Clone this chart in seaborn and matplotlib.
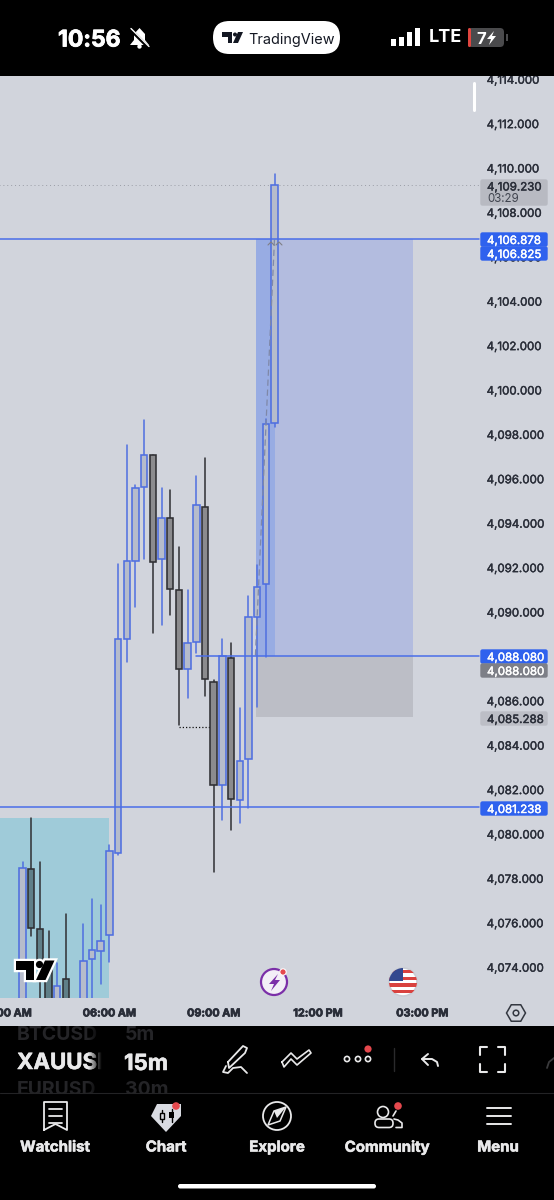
import numpy as np
import pandas as pd
import seaborn as sns
import matplotlib.pyplot as plt
import matplotlib.patheffects as pe
from matplotlib.patches import Rectangle, Circle, FancyBboxPatch, Polygon, RegularPolygon

# --- chart data ---
opens = [4071.5, 4078.42, 4075.72, 4074.10, 4071.0, 4073.47, 4071.2, 4072.0, 4074.37, 4074.73,
         4075.45, 4079.14, 4088.78, 4092.30, 4095.63, 4097.07, 4092.39, 4094.23, 4090.99, 4087.43,
         4088.65, 4094.73, 4086.85, 4082.21, 4087.93, 4081.53, 4083.38, 4089.77, 4091.26, 4098.51]
closes = [4078.47, 4075.77, 4074.10, 4071.5, 4073.15, 4071.5, 4071.6, 4074.28, 4074.77, 4075.18,
          4079.23, 4088.78, 4092.30, 4095.59, 4097.07, 4092.25, 4094.23, 4091.04, 4087.43, 4088.60,
          4094.82, 4086.98, 4082.21, 4088.02, 4081.58, 4083.29, 4089.77, 4091.13, 4098.47, 4109.23]
highs = [4078.74, 4080.72, 4078.74, 4075.63, 4074.19, 4076.40, 4072.2, 4075.95, 4077.07, 4076.80,
         4079.50, 4092.16, 4097.52, 4095.72, 4098.65, 4097.07, 4095.59, 4095.50, 4092.93, 4090.99,
         4096.13, 4096.94, 4086.94, 4088.78, 4088.60, 4085.68, 4090.72, 4092.12, 4098.69, 4109.73]
lows = [4070.0, 4075.41, 4071.5, 4070.5, 4070.0, 4070.5, 4070.5, 4071.0, 4072.0, 4073.24,
        4074.23, 4079.05, 4087.75, 4090.23, 4092.39, 4089.05, 4089.41, 4089.86, 4084.91, 4086.13,
        4088.15, 4086.22, 4078.29, 4080.63, 4080.18, 4080.50, 4081.17, 4085.72, 4087.97, 4098.33]

price_ticks = [4074, 4076, 4078, 4080, 4082, 4084, 4086, 4088, 4090, 4092, 4094, 4096, 4098,
               4100, 4102, 4104, 4106, 4108, 4110, 4112, 4114]
time_ticks = [-2, 10, 22, 34, 46]
time_labels = ["03:00 AM", "06:00 AM", "09:00 AM", "12:00 PM", "03:00 PM"]

target_level = 4106.81
entry_level = 4088.04
stop_level = 4085.288
support_level = 4081.21
last_price = 4109.230
dotted_level = 4084.82
zone_top = 4080.72

BLUE = "#4f6fe0"
LINE_BLUE = "#4a6ee8"
DARK = "#2f2f33"
BG = "#d1d4dc"
TAG_BLUE = "#2f62ee"
INK = "#2a2e39"

sns.set_theme(style="white")
plt.rcParams['font.family'] = ['Inter', 'DejaVu Sans']


def heavy(t, w, col):
    t.set_path_effects([pe.withStroke(linewidth=w, foreground=col)])
    return t


fig = plt.figure(figsize=(5.54, 12), dpi=100, facecolor=BG)
ax = fig.add_axes([0, (1200 - 998) / 1200, 1, (998 - 76) / 1200], facecolor=BG)

# --- wicks via seaborn, one vertical line per candle ---
rows = []
for i in range(len(opens)):
    side = "up" if closes[i] > opens[i] else "down"
    rows.append({"candle": i, "price": lows[i], "side": side})
    rows.append({"candle": i, "price": highs[i], "side": side})
wicks = pd.DataFrame(rows)
sns.lineplot(data=wicks, x="candle", y="price", hue="side", units="candle", estimator=None,
             palette={"up": BLUE, "down": DARK}, lw=1.1, legend=False, ax=ax, zorder=2)

# --- bodies ---
x = np.arange(len(opens))
o = np.array(opens)
c = np.array(closes)
up = c > o
ax.bar(x[up], (c - o)[up], bottom=o[up], width=0.74, color="#b6bccb",
       edgecolor=BLUE, linewidth=1.15, zorder=3)
# bear candles left of 06:00 sit in the teal zone
bear_fill = ["#5f7f88" if i < 10 else "#8b8b8e" for i in x[~up]]
ax.bar(x[~up], (o - c)[~up], bottom=c[~up], width=0.74, color=bear_fill,
       edgecolor=DARK, linewidth=1.15, zorder=3)

# --- drawings ---
ax.add_patch(Rectangle((-3, 4072), 13.01, zone_top - 4072, color="#9fcbd9", lw=0, zorder=0.5))
ax.add_patch(Rectangle((26.87, entry_level), 18.07, target_level - entry_level, color="#b3bcdf", lw=0, zorder=0.5))
ax.add_patch(Rectangle((26.87, entry_level), 2.19, target_level - entry_level, color="#98ace3", lw=0, zorder=0.6))
ax.add_patch(Rectangle((26.87, stop_level), 18.07, entry_level - stop_level, color="#bcbec6", lw=0, zorder=0.5))

ax.plot([-3, 52.5], [target_level] * 2, color=LINE_BLUE, lw=1.1, zorder=4)
ax.plot([20, 52.5], [entry_level] * 2, color=LINE_BLUE, lw=1.1, zorder=4)
ax.plot([-3, 52.5], [support_level] * 2, color=LINE_BLUE, lw=1.1, zorder=4)
ax.plot([-3, 52.5], [last_price] * 2, color="#9a9da6", lw=0.7, ls=(0, (1, 3)), zorder=1)
ax.plot([18, 22.5], [dotted_level] * 2, color="#111111", lw=0.9, ls=(0, (1, 1.6)), zorder=2)
ax.plot([26.8, 29], [entry_level, target_level], color="#7f88a8", lw=0.9, ls=(0, (5, 3)), zorder=3.5)

ax.set_xlim(-22.5 / 8.69, (554 - 22.5) / 8.69)
ax.set_ylim(4110 - (998 - 168) / 22.2, 4110 + (168 - 76) / 22.2)
ax.set_xticks(time_ticks, time_labels)
ax.set_yticks(price_ticks, [f"{p:,.3f}" for p in price_ticks])
ax.yaxis.tick_right()
ax.tick_params(axis="y", length=0, pad=-48.5, labelsize=8.3, labelcolor=INK)
ax.tick_params(axis="x", length=0, pad=7.5, labelsize=7.8, labelcolor=INK)
for lab in ax.get_xticklabels():
    lab.set_fontweight("bold")
    heavy(lab, 0.5, INK)
for lab in ax.get_yticklabels():
    heavy(lab, 0.3, INK)
ax.set_xlabel("")
ax.set_ylabel("")
for s in ax.spines.values():
    s.set_visible(False)

# --- screen furniture in pixel coords ---
ui = fig.add_axes([0, 0, 1, 1], facecolor="none")
ui.set_xlim(0, 554)
ui.set_ylim(1200, 0)
ui.axis("off")


def tag(y0, y1, color, text, tcolor="white", text_y=None):
    ui.add_patch(FancyBboxPatch((481, y0 + 1), 66, y1 - y0 - 2, boxstyle="round,pad=0,rounding_size=1.5",
                                fc=color, ec=color, lw=1))
    t = ui.text(487, (y0 + y1) / 2 if text_y is None else text_y, text, color=tcolor, fontsize=8.3,
                va="center_baseline", ha="left")
    heavy(t, 0.3, tcolor)


tag(179, 206, "#b8bac2", "4,109.230", INK, 186)
ui.text(487, 198, "03:29", color="#40444f", fontsize=8.3, va="center_baseline")
tag(232, 247, TAG_BLUE, "4,106.878")
tag(246, 261, TAG_BLUE, "4,106.825")
tag(649, 664, TAG_BLUE, "4,088.080")
tag(663, 678, "#7d7f87", "4,088.080")
tag(711, 726, "#bcbec6", "4,085.288", INK)
tag(801, 816, TAG_BLUE, "4,081.238")

# bits on top of the chart
ui.plot([474, 474], [83, 110], color="white", lw=2.2, solid_capstyle="round")
ui.plot([268, 271, 274], [245, 242, 245], color="#7f7f86", lw=0.8)
ui.plot([276, 279, 282], [245, 242, 245], color="#7f7f86", lw=0.8)


def tv_logo(x0, y0, s, color, outline=None):
    t = np.array([(0, 0), (18.5, 0), (18.5, 19.5), (10, 19.5), (10, 9.5), (0, 9.5)])
    sl = np.array([(29.5, 0), (39, 0), (30, 19.5), (20.5, 19.5)])
    if outline:
        for p in (Polygon(t * s + (x0, y0), closed=True), Polygon(sl * s + (x0, y0), closed=True),
                  Circle((x0 + 24 * s, y0 + 4 * s), 3.6 * s)):
            p.set(fc=outline, ec=outline, lw=3.2, joinstyle="miter")
            ui.add_patch(p)
    for p in (Polygon(t * s + (x0, y0), closed=True), Polygon(sl * s + (x0, y0), closed=True),
              Circle((x0 + 24 * s, y0 + 4 * s), 3.6 * s)):
        p.set(fc=color, ec="none")
        ui.add_patch(p)


tv_logo(15.5, 960.5, 1.0, "black", outline="white")

# events on time scale
ui.add_patch(Circle((274, 982), 13, fc="#f3eff7", ec="#7b2fa8", lw=1.6))
ui.add_patch(Polygon([(278, 974), (269, 984), (274, 984), (271, 991), (280, 980), (275, 980)], fc="#7b2fa8", ec="none"))
ui.add_patch(Circle((283, 972), 3.2, fc="#e5484d", ec="white", lw=0.8))
flag = Circle((403, 982), 14, fc="white", ec="#c9ccd4", lw=1.2)
ui.add_patch(flag)
for k in range(4):
    st = Rectangle((388, 970 + k * 6.6), 30, 3.3, fc="#d9423f", ec="none")
    ui.add_patch(st)
    st.set_clip_path(flag)
can = Rectangle((388, 968), 15, 13, fc="#33488f", ec="none")
ui.add_patch(can)
can.set_clip_path(flag)
ui.add_patch(RegularPolygon((516, 1013), 6, radius=9.5, orientation=np.pi / 6, fc="none", ec="#333740", lw=1.1))
ui.add_patch(Circle((516, 1013), 2.8, fc="none", ec="#333740", lw=1.1))

# top and bottom bars
ui.add_patch(Rectangle((0, 0), 554, 76, fc="black", ec="none", zorder=5))
ui.add_patch(Rectangle((0, 1026), 554, 174, fc="black", ec="none", zorder=1.5))
Z = 6
heavy(ui.text(58, 38, "10:56", color="white", fontsize=16.5, fontweight="bold", va="center_baseline", zorder=Z), 0.6, "white")
# muted bell
ui.add_patch(Polygon([(130, 45), (134, 40), (134, 34), (139.5, 28), (145, 34), (145, 40), (149, 45)],
                     fc="white", ec="none", zorder=Z))
ui.add_patch(Circle((139.5, 46.5), 2.2, fc="white", ec="none", zorder=Z))
ui.plot([131, 149], [30, 48], color="black", lw=2.4, zorder=Z)
ui.plot([131, 149], [28.5, 46.5], color="white", lw=1.0, zorder=Z)
ui.add_patch(FancyBboxPatch((213, 21), 127, 33, boxstyle="round,pad=0,rounding_size=16.5", fc="white", ec="none", zorder=Z))
ui.text(248, 38.5, "TradingView", color="#131722", fontsize=10.4, va="center_baseline", zorder=Z + 1)
for p in (Polygon(np.array([(0, 0), (10, 0), (10, 11), (5.5, 11), (5.5, 5), (0, 5)]) + (222, 32), fc="#131722", ec="none", zorder=Z + 1),
          Polygon(np.array([(16, 0), (21, 0), (16, 11), (11, 11)]) + (222, 32), fc="#131722", ec="none", zorder=Z + 1),
          Circle((235, 34.5), 2, fc="#131722", ec="none", zorder=Z + 1)):
    ui.add_patch(p)
for bx, top in zip([391, 399, 407, 415], [39, 37, 32, 28]):
    ui.add_patch(Rectangle((bx, top), 5, 46 - top, fc="white", ec="none", zorder=Z))
ui.text(429, 38, "LTE", color="white", fontsize=13, fontweight="bold", va="center", zorder=Z)
ui.add_patch(FancyBboxPatch((468, 28), 36, 19, boxstyle="round,pad=0,rounding_size=4", fc="#4a4a4c", ec="none", zorder=Z))
ui.add_patch(FancyBboxPatch((468, 28), 3, 19, boxstyle="round,pad=0,rounding_size=1.5", fc="#e0453f", ec="none", zorder=Z))
ui.add_patch(Rectangle((506, 34), 2, 7, fc="#4a4a4c", ec="none", zorder=Z))
ui.text(476, 38, "7", color="white", fontsize=12, fontweight="bold", va="center_baseline", zorder=Z + 1)
ui.add_patch(Polygon([(494, 31), (487, 39), (491, 39), (489, 45), (496, 36), (492, 36)], fc="white", ec="none", zorder=Z + 1))

# symbol picker, the names fade out and get cut at x=102
for txt, y, col, fs in [("BTCUSD", 1033, "#242427", 14), ("XAUUSD", 1061, "#e9e9ea", 16), ("EURUSD", 1088, "#242427", 14)]:
    t = ui.text(17, y, txt, color=col, fontsize=fs, fontweight="bold", va="center_baseline", zorder=Z)
    if col == "#e9e9ea":
        heavy(t, 0.4, col)
fade = np.zeros((1, 20, 4))
fade[0, :, 3] = np.linspace(0, 1, 20)
ui.imshow(fade, extent=(88, 102, 1093, 1026), aspect="auto", zorder=Z + 1)
ui.add_patch(Rectangle((102, 1026), 20, 67, fc="black", ec="none", zorder=Z + 1))
ui.set_xlim(0, 554)
ui.set_ylim(1200, 0)
heavy(ui.text(124, 1062, "15m", color="#e9e9ea", fontsize=16, fontweight="bold", va="center_baseline", zorder=Z), 0.4, "#e9e9ea")
for txt, y in [("5m", 1033), ("30m", 1088)]:
    ui.text(125, y, txt, color="#242427", fontsize=14, fontweight="bold", va="center_baseline", zorder=Z)
# keep the ghost rows out of the time axis strip and the nav bar
ui.add_patch(Rectangle((0, 1093), 554, 12, fc="black", ec="none", zorder=Z + 1))
ui.plot([0, 554], [1093, 1093], color="#232325", lw=0.8, zorder=Z + 2)

W = "#e9e9ea"
# pen
ui.plot([228, 243, 247, 245, 229, 228], [1062, 1046, 1048, 1053, 1068, 1062], color=W, lw=1.3, zorder=Z)
ui.plot([226, 223, 228, 233, 241, 247], [1066, 1072, 1073, 1068, 1067, 1073], color=W, lw=1.3, zorder=Z)
# zigzag
ui.plot([282, 291, 297, 309, 311, 297, 291, 284, 282], [1062, 1053, 1059, 1050, 1053, 1065, 1059, 1067, 1062], color=W, lw=1.2, zorder=Z)
# dots
for dx in [347, 358, 368]:
    ui.add_patch(Circle((dx, 1059), 2.6, fc="none", ec=W, lw=1.2, zorder=Z))
ui.add_patch(Circle((368, 1049), 3.6, fc="#e5484d", ec="none", zorder=Z))
ui.plot([394, 394], [1048, 1071], color="#2a2a2c", lw=1, zorder=Z)
# undo
ui.plot([428, 422, 428], [1054, 1059, 1065], color=W, lw=1.4, zorder=Z)
ui.plot([422, 432, 437, 438], [1059, 1059, 1062, 1066], color=W, lw=1.4, zorder=Z)
# fullscreen
for xs, ys in [([480, 480, 487], [1055, 1047, 1047]), ([498, 505, 505], [1047, 1047, 1055]),
               ([480, 480, 487], [1064, 1072, 1072]), ([498, 505, 505], [1072, 1072, 1064])]:
    ui.plot(xs, ys, color=W, lw=1.5, zorder=Z)
ui.plot([547, 549, 554], [1068, 1062, 1058], color="#3a3a3c", lw=1.3, zorder=Z)

# nav bar
Z2 = Z + 3
for lx, name in zip([55, 166, 277, 387, 498], ["Watchlist", "Chart", "Explore", "Community", "Menu"]):
    heavy(ui.text(lx, 1146, name, color=W, fontsize=10.8, fontweight="bold", ha="center", va="center_baseline", zorder=Z2), 0.4, W)
ui.plot([44, 44, 67, 67, 55.5, 44], [1130, 1102, 1102, 1130, 1124, 1130], color=W, lw=1.3, zorder=Z2)
for ly in [1109, 1116, 1123]:
    ui.plot([49, 62], [ly, ly], color=W, lw=1.3, zorder=Z2)
ui.add_patch(Polygon([(157, 1104), (181, 1104), (181, 1116), (166, 1132), (151, 1116)], fc="#d9dbe2", ec="none", zorder=Z2))
ui.plot([162, 162], [1110, 1122], color="black", lw=1, zorder=Z2 + 1)
ui.add_patch(Rectangle((160, 1113), 4, 6, fc="#d9dbe2", ec="black", lw=1, zorder=Z2 + 1))
ui.add_patch(Rectangle((169, 1112), 5, 6, fc="black", ec="none", zorder=Z2 + 1))
ui.plot([171.5, 171.5], [1109, 1122], color="black", lw=1, zorder=Z2 + 1)
ui.add_patch(Circle((176, 1106), 3.8, fc="#e5484d", ec="none", zorder=Z2 + 2))
ui.add_patch(Circle((277, 1116), 14, fc="none", ec=W, lw=1.3, zorder=Z2))
ui.add_patch(Polygon([(286, 1107), (280, 1121), (268, 1125), (274, 1111)], fc="none", ec=W, lw=1.1, zorder=Z2))
ui.add_patch(Polygon([(286, 1107), (277, 1118), (274, 1111)], fc=W, ec="none", zorder=Z2))
ui.add_patch(Circle((383, 1112), 5.5, fc="none", ec=W, lw=1.2, zorder=Z2))
ui.add_patch(FancyBboxPatch((375, 1119), 18, 8.5, boxstyle="round,pad=0,rounding_size=4", fc="none", ec=W, lw=1.2, zorder=Z2))
ui.plot([394, 398, 402, 402, 396], [1119, 1120, 1123, 1127.5, 1127.5], color=W, lw=1.2, zorder=Z2)
ui.plot([393, 396], [1116, 1111], color=W, lw=1.2, zorder=Z2)
ui.add_patch(Circle((398, 1106), 3.8, fc="#e5484d", ec="none", zorder=Z2 + 1))
for ly in [1108, 1116, 1124]:
    ui.plot([487, 511], [ly, ly], color=W, lw=1.4, zorder=Z2)
ui.add_patch(FancyBboxPatch((178, 1184), 198, 4.5, boxstyle="round,pad=0,rounding_size=2.2", fc="white", ec="none", zorder=Z2))

fig.savefig("out.png", dpi=100, facecolor=BG)
